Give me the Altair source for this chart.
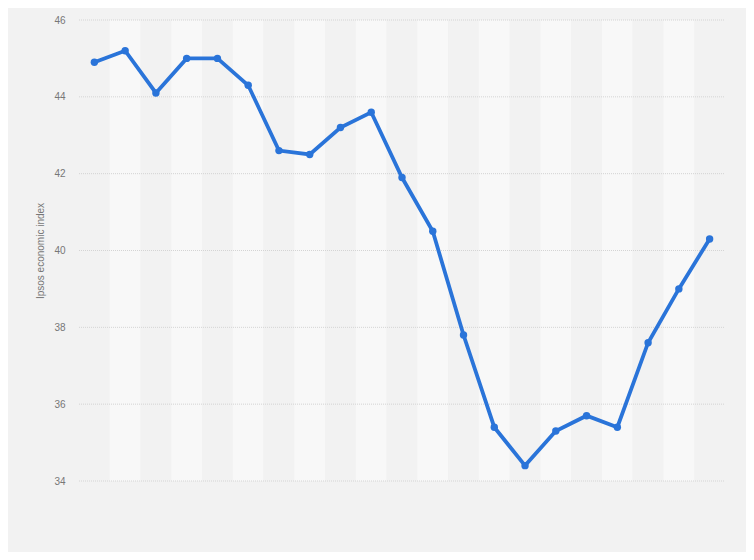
import altair as alt
import pandas as pd

values = [44.9, 45.2, 44.1, 45.0, 45.0, 44.3, 42.6, 42.5, 43.2, 43.6, 41.9,
          40.5, 37.8, 35.4, 34.4, 35.3, 35.7, 35.4, 37.6, 39.0, 40.3]
y_ticks = [34, 36, 38, 40, 42, 44, 46]

idx = list(range(len(values)))
df = pd.DataFrame({"i": idx, "value": values})
bands = pd.DataFrame({
    "x0": [i - 0.5 for i in idx],
    "x1": [i + 0.5 for i in idx],
    "parity": [i % 2 for i in idx],
})
grid = pd.DataFrame({"value": y_ticks})

xscale = alt.Scale(domain=[-0.5, len(values) - 0.5], nice=False, zero=False)
yscale = alt.Scale(domain=[34, 46], nice=False, zero=False)
yaxis = alt.Axis(values=y_ticks, title="Ipsos economic index", grid=False,
                 domain=False, ticks=False, labelColor="#777777",
                 labelFontSize=10, labelPadding=14, labelFont="Arial",
                 titleColor="#777777", titleFontSize=10, titleFontWeight="normal",
                 titleFont="Arial", titlePadding=8)
yenc = alt.Y("value:Q", scale=yscale, axis=yaxis)

band_layer = alt.Chart(bands).mark_rect().encode(
    x=alt.X("x0:Q", scale=xscale, axis=None),
    x2="x1:Q",
    y=alt.value(0),
    y2=alt.value(461),
    color=alt.Color("parity:N", scale=alt.Scale(domain=[0, 1], range=["#f2f2f2", "#f8f8f8"]), legend=None),
)

grid_layer = alt.Chart(grid).mark_rule(color="#d4d4d4", strokeDash=[1, 1], strokeWidth=1).encode(
    y=yenc,
    x=alt.value(0),
    x2=alt.value(646),
)

base = alt.Chart(df).encode(
    x=alt.X("i:Q", scale=xscale, axis=None),
    y=yenc,
)

line = base.mark_line(color="#2a74d9", strokeWidth=3.8)
pts = base.mark_circle(color="#2a74d9", size=55, opacity=1)

chart = alt.layer(band_layer, grid_layer, line, pts).properties(
    width=646, height=461,
    background="#f2f2f2",
    padding={"left": 71, "top": 12, "right": 21, "bottom": 71},
    autosize=alt.AutoSizeParams(type="none"),
).configure_view(stroke=None)

chart.save("out.html", embed_options={"renderer": "svg", "actions": False})
